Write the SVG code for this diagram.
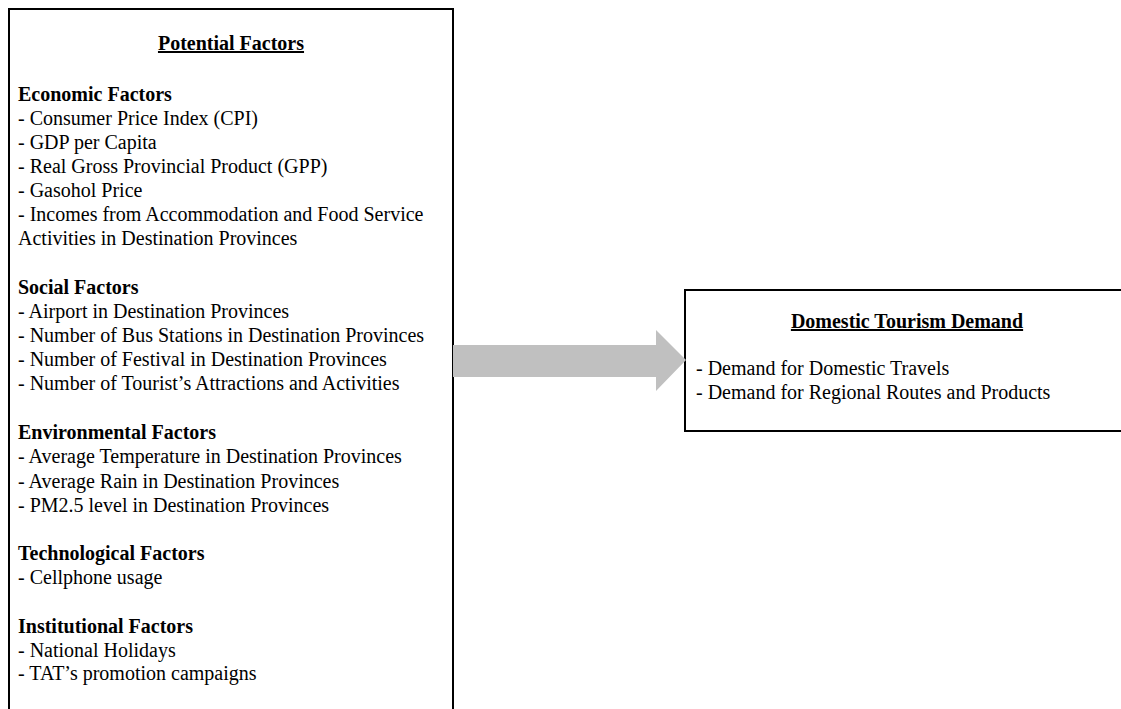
<svg xmlns="http://www.w3.org/2000/svg" width="1121" height="709" viewBox="0 0 1121 709">
  <style>
    .box { fill: #ffffff; stroke: #000000; stroke-width: 2; }
    .t { font-family: "Liberation Serif", "Times New Roman", serif; font-size: 20px; fill: #000000; }
    .b { font-weight: bold; }
    .u { text-decoration: underline; }
    .arrow { fill: #c0c0c0; stroke: none; }
  </style>
  <rect width="1121" height="709" fill="#ffffff"/>

  <!-- Left node: factor list (box runs past the bottom edge) -->
  <g id="potential-factors">
    <rect class="box" x="9" y="9" width="444" height="720"/>
    <text class="t b u" x="231" y="50" text-anchor="middle">Potential Factors</text>
    <text class="t b" x="18" y="101">Economic Factors</text>
    <text class="t" x="18" y="125">- Consumer Price Index (CPI)</text>
    <text class="t" x="18" y="149">- GDP per Capita</text>
    <text class="t" x="18" y="173">- Real Gross Provincial Product (GPP)</text>
    <text class="t" x="18" y="197">- Gasohol Price</text>
    <text class="t" x="18" y="221">- Incomes from Accommodation and Food Service</text>
    <text class="t" x="18" y="245">Activities in Destination Provinces</text>
    <text class="t b" x="18" y="294">Social Factors</text>
    <text class="t" x="18" y="318">- Airport in Destination Provinces</text>
    <text class="t" x="18" y="342">- Number of Bus Stations in Destination Provinces</text>
    <text class="t" x="18" y="366">- Number of Festival in Destination Provinces</text>
    <text class="t" x="18" y="390">- Number of Tourist’s Attractions and Activities</text>
    <text class="t b" x="18" y="439">Environmental Factors</text>
    <text class="t" x="18" y="463">- Average Temperature in Destination Provinces</text>
    <text class="t" x="18" y="488">- Average Rain in Destination Provinces</text>
    <text class="t" x="18" y="512">- PM2.5 level in Destination Provinces</text>
    <text class="t b" x="18" y="560">Technological Factors</text>
    <text class="t" x="18" y="584">- Cellphone usage</text>
    <text class="t b" x="18" y="633">Institutional Factors</text>
    <text class="t" x="18" y="657">- National Holidays</text>
    <text class="t" x="18" y="680">- TAT’s promotion campaigns</text>
  </g>

  <!-- Right node: demand outcomes (box runs past the right edge) -->
  <g id="domestic-tourism-demand">
    <rect class="box" x="685" y="290" width="460" height="141"/>
    <text class="t b u" x="907" y="328" text-anchor="middle">Domestic Tourism Demand</text>
    <text class="t" x="696" y="375">- Demand for Domestic Travels</text>
    <text class="t" x="696" y="399">- Demand for Regional Routes and Products</text>
  </g>

  <!-- Connector: thick grey block arrow -->
  <g id="connectors">
    <polygon class="arrow" points="453,345 656,345 656,330 686,360 656,391 656,377 453,377"/>
  </g>
</svg>
